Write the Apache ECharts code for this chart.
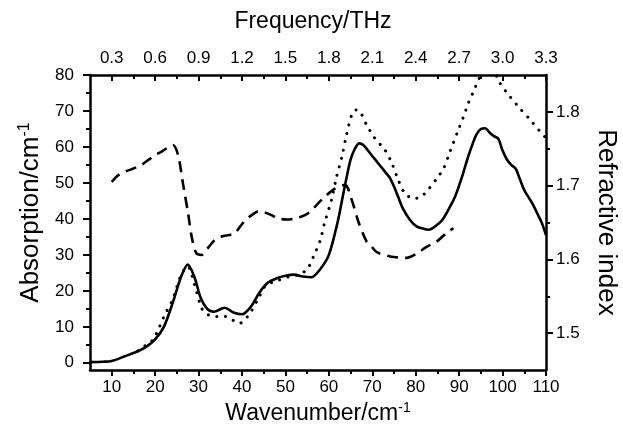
<!DOCTYPE html>
<html>
<head>
<meta charset="utf-8">
<script src="https://cdn.jsdelivr.net/npm/echarts@6/dist/echarts.min.js"></script>
<style>html,body{margin:0;padding:0;background:#fff}#c{width:623px;height:436px}</style>
</head>
<body>
<div id="c"></div>
<script>
// Solid: absorption (left axis)
const absWn  = [5, 8, 10, 13, 16, 18, 20, 22, 24, 26, 27.5, 29, 30.5, 32, 33.5, 36, 38, 40, 42, 44, 46, 48, 50, 52, 54, 56, 58, 60, 62, 63, 64, 65, 66, 67, 68, 69, 70, 71, 72, 73, 74, 75, 76, 77, 78.7, 80.2, 82, 83, 84, 86, 87.5, 89, 90.2, 91, 92, 93, 94, 95, 96, 97, 98, 99, 100, 101, 102, 103, 104, 105, 106, 107, 108, 109, 110];
const absVal = [0.2, 0.3, 0.5, 1.8, 3.2, 4.5, 6.5, 10, 16.5, 24, 27.3, 24, 18, 15, 14.2, 15.3, 14, 13.5, 15.5, 19.5, 22.3, 23.5, 24.2, 24.5, 24, 23.8, 26, 30, 39, 45, 51, 56.5, 59.5, 61, 60.5, 59, 57.5, 56, 54.5, 53, 51.5, 49, 46, 43, 39.7, 37.9, 37.2, 37, 37.5, 39.5, 42.5, 46, 50, 53, 57, 60.5, 63.5, 65, 65.2, 64, 63, 62.3, 59, 56.5, 55, 54, 51, 48, 46, 44, 41.5, 39, 35.5];
// Dotted: second absorption curve (left axis)
const dotWn  = [16, 18, 19.5, 21, 22.2, 24, 26, 27.5, 29, 30.7, 32, 33.5, 36, 38, 39.5, 41, 42, 44, 45.5, 48.5, 51, 53, 55, 56.8, 58, 59, 60.6, 61.8, 63, 64, 65.3, 66.3, 67.2, 68.7, 70.6, 72.9, 74.5, 76, 77.5, 79.5, 81, 82.5, 84.9, 86.4, 87.9, 89.8, 91, 92.1, 93.3, 94.8, 96, 97.5, 99.4, 101.7, 104, 106.4, 108.7, 110];
const dotVal = [3.3, 5, 6.4, 10, 13.3, 17.5, 24.5, 26.8, 22, 15.2, 13.5, 12.9, 12.9, 11.8, 11, 12.5, 14, 18.5, 21.5, 23, 24, 24.5, 26, 30.5, 34, 38.8, 45.3, 51.8, 57.3, 63, 69, 70.3, 69.8, 66.1, 62.4, 59.2, 55.5, 50.8, 47.1, 45.7, 46, 47.6, 51.3, 54, 58.7, 64.7, 68.4, 72.1, 75.4, 79.5, 81.5, 81.5, 77.7, 74, 70.7, 67.5, 64.2, 62.5];
// Dashed: refractive index (right axis)
const idxWn  = [10, 11.5, 13, 14.5, 16.8, 18.5, 19.9, 21.5, 23, 24.1, 25.3, 26.4, 27.6, 28.4, 29.5, 30.7, 31.4, 32.5, 33.7, 35.3, 37, 38.3, 39.9, 41, 42.2, 43.7, 45, 46.8, 48, 50.3, 52.6, 54.5, 56, 57.2, 59.1, 61.4, 63.7, 65.3, 66.8, 68.7, 69.5, 71, 74.1, 77.9, 80, 82.5, 84.8, 87.5, 88.7];
const idxVal = [1.705, 1.714, 1.719, 1.722, 1.728, 1.735, 1.741, 1.746, 1.752, 1.755, 1.741, 1.703, 1.662, 1.631, 1.608, 1.606, 1.610, 1.618, 1.626, 1.631, 1.633, 1.635, 1.647, 1.654, 1.660, 1.665, 1.664, 1.660, 1.656, 1.654, 1.656, 1.660, 1.666, 1.674, 1.685, 1.696, 1.701, 1.680, 1.651, 1.624, 1.620, 1.610, 1.604, 1.602, 1.607, 1.617, 1.624, 1.638, 1.642];

// Tick labels
const wnTicks   = [10, 20, 30, 40, 50, 60, 70, 80, 90, 100, 110];
const wnMinor   = [15, 25, 35, 45, 55, 65, 75, 85, 95, 105];
const thzTicks  = [0.3, 0.6, 0.9, 1.2, 1.5, 1.8, 2.1, 2.4, 2.7, 3.0, 3.3];
const thzMinor  = [0.45, 0.75, 1.05, 1.35, 1.65, 1.95, 2.25, 2.55, 2.85, 3.15];
const absTicks  = [0, 10, 20, 30, 40, 50, 60, 70, 80];
const absMinor  = [5, 15, 25, 35, 45, 55, 65, 75];
const idxTicks  = [1.5, 1.6, 1.7, 1.8];
const idxMinor  = [1.55, 1.65, 1.75];

const FONT = 'Liberation Sans';
const pair = (xs, ys) => xs.map((x, i) => [x, ys[i]]);
const lw = 2.5;
const majorLabel = { color: '#000', fontFamily: FONT, fontSize: 17 };
const richSup = (size, extra) => ({
  color: '#000', fontFamily: FONT, fontSize: size, ...extra,
  rich: {
    a: { color: '#000', fontFamily: FONT, fontSize: size },
    s: { color: '#000', fontFamily: FONT, fontSize: Math.round(size * 0.6), verticalAlign: 'top', padding: [0, 0, Math.round(size * 0.5), 0] }
  }
});

const chart = echarts.init(document.getElementById('c'), null, { renderer: 'canvas' });
chart.setOption({
  animation: false,
  backgroundColor: '#fff',
  grid: { left: 90, right: 77, top: 75, bottom: 66, containLabel: false, outerBoundsMode: 'none' },
  xAxis: [
    {
      type: 'value', position: 'bottom', min: 5, max: 110,
      name: '{a|Wavenumber/cm}{s|-1}', nameLocation: 'middle', nameGap: 28, nameTextStyle: richSup(23, {}),
      axisLine: { show: true, onZero: false, lineStyle: { color: '#000', width: lw } },
      axisTick: { show: true, inside: false, length: 6, customValues: wnTicks, lineStyle: { color: '#000', width: 2 } },
      axisLabel: { show: true, margin: 9, customValues: wnTicks, ...majorLabel },
      splitLine: { show: false }
    },
    {
      type: 'value', position: 'bottom', min: 5, max: 110,
      axisLine: { show: false, onZero: false },
      axisTick: { show: true, inside: false, length: 4, customValues: wnMinor, lineStyle: { color: '#000', width: 2 } },
      axisLabel: { show: false }, splitLine: { show: false }
    },
    {
      type: 'value', position: 'top', min: 0.15, max: 3.3,
      name: 'Frequency/THz', nameLocation: 'middle', nameGap: 42,
      nameTextStyle: { color: '#000', fontFamily: FONT, fontSize: 23, padding: [0, 10, 0, 0] },
      axisLine: { show: true, onZero: false, lineStyle: { color: '#000', width: lw } },
      axisTick: { show: true, inside: true, length: 6, customValues: thzTicks, lineStyle: { color: '#000', width: 2 } },
      axisLabel: { show: true, margin: 8, customValues: thzTicks, formatter: v => v.toFixed(1), ...majorLabel },
      splitLine: { show: false }
    },
    {
      type: 'value', position: 'top', min: 0.15, max: 3.3,
      axisLine: { show: false, onZero: false },
      axisTick: { show: true, inside: true, length: 4, customValues: thzMinor, lineStyle: { color: '#000', width: 2 } },
      axisLabel: { show: false }, splitLine: { show: false }
    }
  ],
  yAxis: [
    {
      type: 'value', position: 'left', min: -2, max: 80,
      name: '{a|Absorption/cm}{s|-1}', nameLocation: 'middle', nameGap: 44,
      nameTextStyle: richSup(26, { padding: [0, 0, 0, 20] }),
      axisLine: { show: true, onZero: false, lineStyle: { color: '#000', width: lw } },
      axisTick: { show: true, inside: false, length: 7, customValues: absTicks, lineStyle: { color: '#000', width: 2 } },
      axisLabel: { show: true, margin: 16, customValues: absTicks, ...majorLabel },
      splitLine: { show: false }
    },
    {
      type: 'value', position: 'right', min: 1.45, max: 1.85,
      name: 'Refractive index', nameLocation: 'middle', nameGap: 47, nameRotate: -90,
      nameTextStyle: { color: '#000', fontFamily: FONT, fontSize: 26 },
      axisLine: { show: true, onZero: false, lineStyle: { color: '#000', width: lw } },
      axisTick: { show: true, inside: false, length: 7, customValues: idxTicks, lineStyle: { color: '#000', width: 2 } },
      axisLabel: { show: true, margin: 10, customValues: idxTicks, formatter: v => v.toFixed(1), ...majorLabel },
      splitLine: { show: false }
    },
    {
      type: 'value', position: 'left', min: -2, max: 80,
      axisLine: { show: false, onZero: false },
      axisTick: { show: true, inside: false, length: 4, customValues: absMinor, lineStyle: { color: '#000', width: 2 } },
      axisLabel: { show: false }, splitLine: { show: false }
    },
    {
      type: 'value', position: 'right', min: 1.45, max: 1.85,
      axisLine: { show: false, onZero: false },
      axisTick: { show: true, inside: false, length: 4, customValues: idxMinor, lineStyle: { color: '#000', width: 2 } },
      axisLabel: { show: false }, splitLine: { show: false }
    }
  ],
  series: [
    {
      type: 'line', xAxisIndex: 0, yAxisIndex: 0, data: pair(absWn, absVal),
      smooth: 0.3, showSymbol: false, clip: true,
      lineStyle: { color: '#000', width: 2.6, type: 'solid' }
    },
    {
      type: 'line', xAxisIndex: 0, yAxisIndex: 0, data: pair(dotWn, dotVal),
      smooth: 0.3, showSymbol: false, clip: true,
      lineStyle: { color: '#000', width: 3, type: [0.1, 8.5], cap: 'round' }
    },
    {
      type: 'line', xAxisIndex: 0, yAxisIndex: 1, data: pair(idxWn, idxVal),
      smooth: 0.3, showSymbol: false, clip: true,
      lineStyle: { color: '#000', width: 2.6, type: [11, 7] }
    }
  ]
});
</script>
</body>
</html>
